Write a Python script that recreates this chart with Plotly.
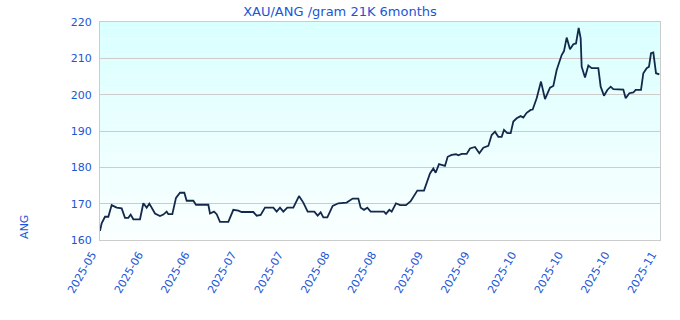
import plotly.graph_objects as go

title = "XAU/ANG /gram 21K 6months"
y_label = "ANG"

t = [0, 0.5, 1.5, 2.5, 3.5, 5, 6.5, 7.5, 8.5, 9.2, 10, 12, 13, 14, 14.8, 16.5, 18, 19, 20, 20.5,
     21.7, 22.8, 24, 25.3, 26, 28, 28.8, 32.5, 33, 34.2, 35, 36, 38.5, 40, 41.5, 42.5, 46, 47, 48.2,
     49.5, 52, 53, 54, 55, 56.2, 58, 59.7, 61, 62.3, 64.3, 65.3, 66.2, 67, 68.2, 69.8, 71.5, 74,
     75.8, 77.5, 78.2, 79.2, 80.2, 81.2, 85.2, 85.8, 86.8, 87.5, 88.8, 90, 91.8, 93.2, 94, 95.2,
     97.2, 98, 99, 100, 100.7, 101.7, 103.5, 104.3, 105.5, 106.8, 107.5, 108.5, 110, 111, 112.5,
     113.8, 115, 116.5, 117.5, 118.5, 119.5, 120.5, 121.2, 122.2, 123.2, 124, 125, 126.2, 127, 128,
     129.2, 129.8, 131, 132.3, 133.5, 135, 136, 137, 138.5, 139.2, 140, 141, 142, 142.8, 143.6,
     144.2, 144.5, 145.5, 146.5, 147.5, 149.5, 150.2, 151.2, 152.2, 153.2, 154, 157, 157.7, 158.8,
     160, 160.7, 162.3, 163, 164, 164.7, 165.3, 166, 166.8, 167.8]
price = [162.5, 164.6, 166.4, 166.4, 169.6, 168.9, 168.7, 166.1, 166.1, 167.0, 165.7, 165.7, 170.1,
         168.9, 170.0, 167.3, 166.6, 167.0, 167.8, 167.1, 167.1, 171.6, 173.0, 173.0, 170.8, 170.8,
         169.7, 169.7, 167.3, 167.8, 167.1, 165.0, 165.0, 168.3, 168.1, 167.7, 167.7, 166.7, 166.9,
         168.9, 168.9, 167.8, 168.9, 167.8, 168.9, 168.9, 172.1, 170.3, 167.8, 167.8, 166.7, 167.6,
         166.2, 166.2, 169.4, 170.1, 170.3, 171.4, 171.4, 168.9, 168.3, 168.9, 167.8, 167.8, 167.2,
         168.3, 167.8, 170.1, 169.6, 169.6, 170.7, 171.9, 173.6, 173.6, 175.6, 178.3, 179.7, 178.5,
         180.9, 180.4, 182.9, 183.4, 183.6, 183.3, 183.7, 183.7, 185.2, 185.6, 183.9, 185.4, 185.9,
         188.9, 189.8, 188.4, 188.4, 190.3, 189.4, 189.4, 192.6, 193.5, 194.1, 193.7, 195.0, 195.8,
         195.9, 199.0, 203.6, 198.8, 201.9, 202.4, 206.8, 210.9, 212.0, 215.7, 212.5, 213.9, 214.1,
         218.4, 215.5, 207.7, 204.7, 208.0, 207.3, 207.3, 202.2, 199.7, 201.3, 202.2, 201.5, 201.4,
         199.0, 200.4, 200.6, 201.3, 201.3, 205.9, 207.3, 207.7, 211.4, 211.6, 205.9, 205.6]

tick_pos = [0, 14, 28, 42, 56, 70, 84, 98, 112, 126, 140, 154, 168]
tick_text = ["2025-05", "2025-06", "2025-06", "2025-07", "2025-07", "2025-08", "2025-08",
             "2025-09", "2025-09", "2025-10", "2025-10", "2025-10", "2025-11"]
y_ticks = [160, 170, 180, 190, 200, 210, 220]

blue = "#1a56d6"
fig = go.Figure()

# background gradient (light cyan at top to white at bottom)
n = 40
top = (217, 255, 255)
bot = (250, 255, 255)
for i in range(n):
    f = i / (n - 1)
    c = tuple(round(top[k] + (bot[k] - top[k]) * f) for k in range(3))
    fig.add_shape(type="rect", xref="x domain", yref="y domain",
                  x0=0, x1=1, y0=1 - (i + 1) / n, y1=1 - i / n,
                  fillcolor="rgb(%d,%d,%d)" % c, line_width=0, layer="below")

fig.add_trace(go.Scatter(x=t, y=price, mode="lines",
                         line=dict(color="#13294b", width=1.8), hoverinfo="skip"))

fig.update_layout(
    width=680, height=320,
    margin=dict(l=100, r=20, t=22, b=80),
    paper_bgcolor="white", plot_bgcolor="white",
    showlegend=False,
    title=dict(text=title, x=0.5, xanchor="center", y=0.965, yanchor="middle",
               font=dict(family="DejaVu Sans", size=13, color=blue)),
    font=dict(family="DejaVu Sans", size=11, color=blue),
)
fig.update_xaxes(range=[0, 168], tickvals=tick_pos, ticktext=tick_text, tickangle=-60,
                 ticklabelshift=-8, ticklabelstandoff=3,
                 showgrid=False, zeroline=False, showline=True, linecolor="#cccccc",
                 mirror=True, ticks="", tickfont=dict(size=11, color=blue))
fig.update_yaxes(range=[160, 220], tickvals=y_ticks, showgrid=True, gridcolor="#cccccc",
                 ticklabelstandoff=5,
                 zeroline=False, showline=True, linecolor="#cccccc", mirror=True,
                 ticks="", tickfont=dict(size=11, color=blue))
fig.add_annotation(text=y_label, xref="paper", yref="paper", x=-0.134, y=0.06,
                   xanchor="center", yanchor="middle",
                   textangle=-90, showarrow=False, font=dict(size=11, color=blue))

fig.write_html("out.html")
